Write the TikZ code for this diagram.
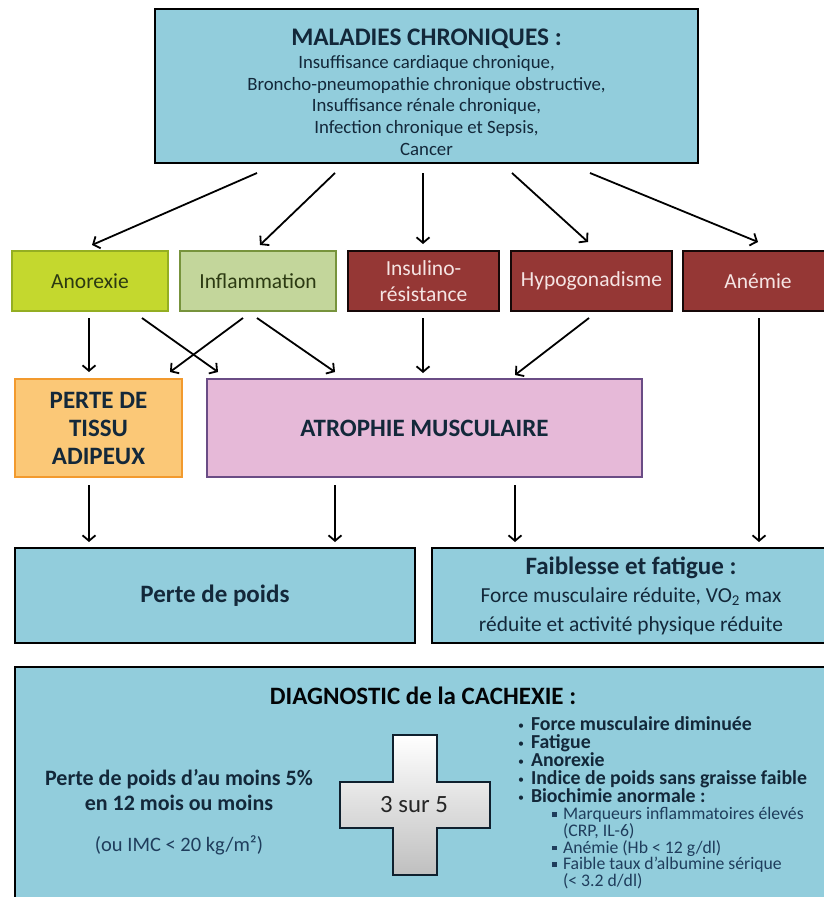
\documentclass[tikz,border=0pt]{standalone}
\usepackage{fontspec}
\setmainfont{Carlito}
\usetikzlibrary{arrows.meta}
\definecolor{cblue}{HTML}{92CDDC}
\definecolor{ink}{HTML}{13283A}
\definecolor{subink}{HTML}{1F3D5C}
\definecolor{lime}{HTML}{C4D82E}
\definecolor{limeb}{HTML}{94AE22}
\definecolor{olive}{HTML}{C3D69B}
\definecolor{oliveb}{HTML}{77933C}
\definecolor{darkgreen}{HTML}{2C3A12}
\definecolor{cred}{HTML}{953735}
\definecolor{credt}{HTML}{F5E4E3}
\definecolor{corange}{HTML}{FBC877}
\definecolor{corangeb}{HTML}{F29A2E}
\definecolor{cpink}{HTML}{E6B9D8}
\definecolor{cpinkb}{HTML}{6A4C85}
\newcommand{\bul}{\makebox[13pt][l]{\raisebox{1pt}{\fontsize{12}{12}\selectfont\mdseries •}}}
\newcommand{\sq}{\makebox[11pt][l]{\raisebox{3pt}{\rule{4.5pt}{4.5pt}}}}
\newcommand{\subline}[1]{{\mdseries\fontsize{17.7}{16.75}\selectfont\color{subink}#1}}
\begin{document}
\begin{tikzpicture}[x=1pt,y=-1pt,
  every node/.style={inner sep=0pt, outer sep=0pt, font=\fontsize{21.5}{26}\selectfont},
  arr/.style={line width=1.8pt, -{Straight Barb[length=5.5pt,width=13pt,line width=1.8pt]}},
  bluebox/.style={draw=black, line width=2.6pt, fill=cblue, text=ink, align=center},
  redbox/.style={draw=black!85!cred, line width=2pt, fill=cred, text=credt, align=center, minimum height=60pt}
]
\useasboundingbox[fill=white] (0,0) rectangle (824,897);
\clip (0,0) rectangle (824,897);

% top box
\node[bluebox, minimum width=543pt, minimum height=154pt, font=\fontsize{18.8}{21.8}\selectfont] (top) at (426.5,86)
  {\rule{0pt}{29pt}{\fontsize{25.3}{28}\selectfont\bfseries MALADIES CHRONIQUES :}\\[1pt]
   Insuffisance cardiaque chronique,\\
   Broncho-pneumopathie chronique obstructive,\\
   Insuffisance rénale chronique,\\
   Infection chronique et Sepsis,\\
   Cancer};

% second row
\node[draw=limeb, line width=2pt, fill=lime, text=darkgreen, minimum width=156pt, minimum height=60pt] (anor) at (90,281) {Anorexie};
\node[draw=oliveb, line width=2pt, fill=olive, text=darkgreen, minimum width=156pt, minimum height=60pt] (infl) at (258,281) {Inflammation};
\node[redbox, minimum width=151pt] (insu) at (423.5,281) {Insulino-\\résistance};
\node[redbox, minimum width=161pt] (hypo) at (591.5,281) {Hypogonadisme};
\node[redbox, minimum width=150pt] (anem) at (758,281) {Anémie};

% third row
\node[draw=corangeb, line width=2pt, fill=corange, text=ink, align=center, minimum width=167pt, minimum height=98pt,
  font=\fontsize{25}{28}\selectfont\bfseries] (perte) at (98.5,428) {PERTE DE\\TISSU\\ADIPEUX};
\node[draw=cpinkb, line width=2pt, fill=cpink, text=ink, minimum width=435pt, minimum height=98pt,
  font=\fontsize{25}{28}\selectfont\bfseries] (atro) at (424.5,428) {ATROPHIE MUSCULAIRE};

% fourth row
\node[bluebox, minimum width=400pt, minimum height=95pt, font=\fontsize{25}{28}\selectfont\bfseries] (poids) at (215,595.5) {Perte de poids};
\node[bluebox, minimum width=398pt, minimum height=95pt, font=\fontsize{21.4}{28.5}\selectfont] (faib) at (631,595.5)
  {{\fontsize{25}{28.5}\selectfont\bfseries Faiblesse et fatigue :}\\
   Force musculaire réduite, VO\textsubscript{2} max\\
   réduite et activité physique réduite};

% diagnostic box (open at the bottom)
\node[fill=cblue, minimum width=816pt, minimum height=232pt] (diag) at (423,783) {};
\draw[line width=2.6pt, black] (diag.south west) -- (diag.north west) -- (diag.north east) -- (diag.south east);
\node[text=black!90!ink, font=\fontsize{25}{28}\selectfont\bfseries] (dtitle) at (423,696) {DIAGNOSTIC de la CACHEXIE :};
\node[text=ink, align=center, font=\fontsize{22}{25}\selectfont\bfseries] (crit1) at (179,790) {Perte de poids d’au moins 5\%\\en 12 mois ou moins};
\node[text=subink, font=\fontsize{20.5}{22}\selectfont] (crit2) at (179,845) {(ou IMC < 20 kg/m²)};

% cross
\path[draw=ink!80!black, line width=1.6pt, top color=white, bottom color=black!25]
  (393,735) -- (437,735) -- (437,782) -- (490,782) -- (490,828) -- (437,828) -- (437,875)
  -- (393,875) -- (393,828) -- (340,828) -- (340,782) -- (393,782) -- cycle;
\node[text=black!85, font=\fontsize{24.8}{26}\selectfont] (trois) at (414,805) {3 sur 5};

% criteria list
\node[anchor=west, align=left, text=ink, font=\fontsize{19.8}{18}\selectfont\bfseries] (items) at (518,803)
  {\bul Force musculaire diminuée\\
   \bul Fatigue\\
   \bul Anorexie\\
   \bul Indice de poids sans graisse faible\\
   \bul Biochimie anormale :\\[-1pt]
   \hspace*{34pt}\subline{\sq Marqueurs inflammatoires élevés}\\[-1.25pt]
   \hspace*{45pt}\subline{(CRP, IL-6)}\\[-1.25pt]
   \hspace*{34pt}\subline{\sq Anémie (Hb < 12 g/dl)}\\[-1.25pt]
   \hspace*{34pt}\subline{\sq Faible taux d’albumine sérique}\\[-1.25pt]
   \hspace*{45pt}\subline{(< 3.2 d/dl)}};

% arrows: top box to second row
\draw[arr] ([xshift=-169.5pt,yshift=-10pt]top.south) -- ([xshift=2pt,yshift=6pt]anor.north);
\draw[arr] ([xshift=-91.5pt,yshift=-10pt]top.south) -- ([xshift=2pt,yshift=6pt]infl.north);
\draw[arr] ([xshift=-3.5pt,yshift=-10pt]top.south) -- ([xshift=-0.5pt,yshift=7pt]insu.north);
\draw[arr] ([xshift=85.5pt,yshift=-10pt]top.south) -- ([xshift=-3.5pt,yshift=9pt]hypo.north);
\draw[arr] ([xshift=163.5pt,yshift=-10pt]top.south) -- ([xshift=0pt,yshift=9pt]anem.north);

% second row to third row
\draw[arr] ([xshift=-1pt,yshift=-7pt]anor.south) -- ([xshift=-9.5pt,yshift=7pt]perte.north);
\draw[arr] ([xshift=52pt,yshift=-7pt]anor.south) -- ([xshift=-206.5pt,yshift=7pt]atro.north);
\draw[arr] ([xshift=-15pt,yshift=-7pt]infl.south) -- ([xshift=71.5pt,yshift=7pt]perte.north);
\draw[arr] ([xshift=-1pt,yshift=-7pt]infl.south) -- ([xshift=-89.5pt,yshift=7pt]atro.north);
\draw[arr] ([xshift=-0.5pt,yshift=-7pt]insu.south) -- ([xshift=-1.5pt,yshift=6pt]atro.north);
\draw[arr] ([xshift=-2.5pt,yshift=-7pt]hypo.south) -- ([xshift=90.5pt,yshift=4pt]atro.north);
\draw[arr] ([xshift=1pt,yshift=-7pt]anem.south) -- ([xshift=128pt,yshift=6pt]faib.north);

% third row to fourth row
\draw[arr] ([xshift=-9.5pt,yshift=-8pt]perte.south) -- ([xshift=-126pt,yshift=6pt]poids.north);
\draw[arr] ([xshift=-89.5pt,yshift=-8pt]atro.south) -- ([xshift=120pt,yshift=6pt]poids.north);
\draw[arr] ([xshift=90.5pt,yshift=-8pt]atro.south) -- ([xshift=-116pt,yshift=6pt]faib.north);
\end{tikzpicture}
\end{document}
